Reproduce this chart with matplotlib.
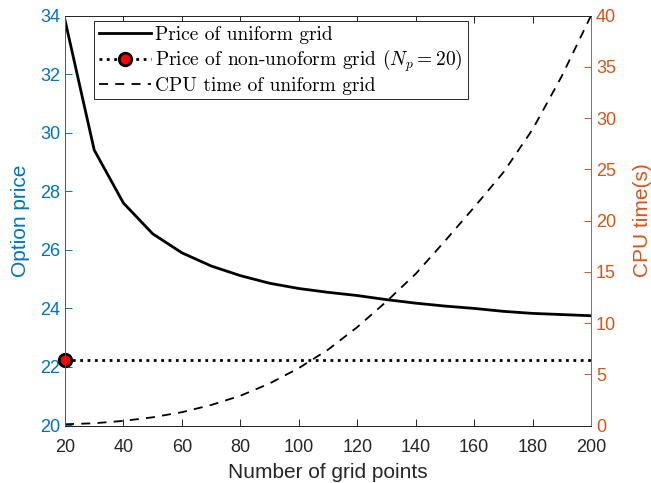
import numpy as np
import matplotlib
matplotlib.use("Agg")
import matplotlib.pyplot as plt

#---------- datos -------------
grid_points = [20, 30, 40, 50, 60, 70, 80, 90, 100, 110, 120, 130, 140, 150, 160, 170, 180, 190, 200]
price_uniform = [33.85, 29.41, 27.6, 26.55, 25.9, 25.45, 25.12, 24.86, 24.68, 24.55,
                 24.44, 24.3, 24.18, 24.08, 24.0, 23.9, 23.83, 23.79, 23.75]
price_nonuniform = 22.25
cpu_uniform = [0.12, 0.22, 0.45, 0.8, 1.3, 2.0, 2.9, 4.1, 5.6, 7.4,
               9.6, 12.1, 14.8, 18.0, 21.3, 24.7, 28.9, 34.1, 40.0]

xticks = list(range(20, 201, 20))
yticks_left = list(range(20, 35, 2))
yticks_right = list(range(0, 41, 5))

blue = '#0072BD'
orange = '#D95319'
gray = '#262626'

plt.rcParams['font.family'] = ['Liberation Sans', 'DejaVu Sans']
plt.rcParams['mathtext.fontset'] = 'cm'

fig = plt.figure(figsize=(6.51, 4.83), dpi=100)
ax = fig.add_axes([65/651, 1-425.5/483, 526/651, 409.8/483])
ax2 = ax.twinx()

#---------- graficos -------------
l1, = ax.plot(grid_points, price_uniform, '-', color='black', lw=2)
l2, = ax.plot(grid_points, np.full(len(grid_points), price_nonuniform), ':', color='black', lw=2,
              marker='o', markevery=[0], markersize=9, markerfacecolor='red',
              markeredgecolor='black', markeredgewidth=2, clip_on=False, zorder=5)
l3, = ax2.plot(grid_points, cpu_uniform, '--', color='black', lw=1.3, dashes=(5, 4))

ax.set_xlim(20, 200)
ax.set_ylim(20, 34)
ax2.set_ylim(0, 40)
ax.set_xticks(xticks)
ax.set_yticks(yticks_left)
ax2.set_yticks(yticks_right)

ax.tick_params(axis='x', direction='in', top=True, colors=gray, labelsize=13, length=5, width=0.7, pad=10)
ax.tick_params(axis='y', direction='in', colors=blue, labelsize=13, length=5, width=0.7)
ax2.tick_params(axis='y', direction='in', colors=orange, labelsize=13, length=5, width=0.7)

for a in (ax, ax2):
    a.spines['top'].set_color(gray)
    a.spines['bottom'].set_color(gray)
    a.spines['left'].set_color(blue)
    a.spines['right'].set_color(orange)
    for s in a.spines.values():
        s.set_linewidth(0.7)

ax.set_xlabel('Number of grid points', fontsize=15, color=gray, labelpad=5)
ax.set_ylabel('Option price', fontsize=15, color=blue, labelpad=7)
ax2.set_ylabel('CPU time(s)', fontsize=15, color=orange, labelpad=12)

leg = ax2.legend([l1, l2, l3],
                 ['Price of uniform grid',
                  r'Price of non-unoform grid $(N_p = 20)$',
                  'CPU time of uniform grid'],
                 loc='upper left', bbox_to_anchor=(0.055, 0.986),
                 prop={'family': 'cmr10', 'size': 14}, numpoints=1,
                 handlelength=2.7, handletextpad=0.2, borderpad=0.25,
                 labelspacing=0.15, borderaxespad=0, fancybox=False,
                 framealpha=1, edgecolor=gray)
leg.get_frame().set_linewidth(0.7)

fig.savefig('out.png', dpi=100)
